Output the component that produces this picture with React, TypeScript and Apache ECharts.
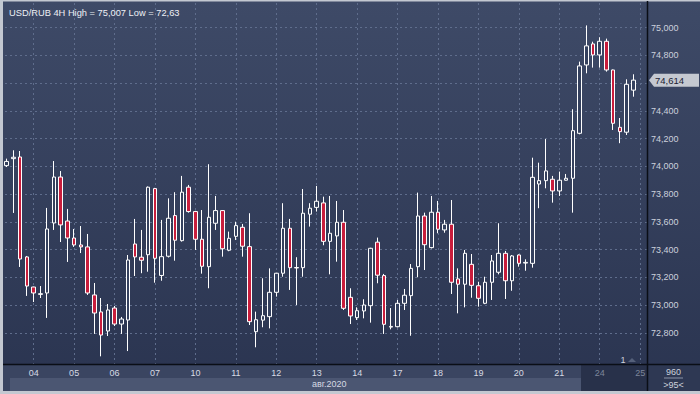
import React, { useEffect, useRef } from "react";
import * as echarts from "echarts";

// ---- data (USD/RUB 4H) ----
const dayLabels = ["04", "05", "06", "07", "10", "11", "12", "13", "14", "17", "18", "19", "20", "21", "24", "25"];
const monthLabel = "авг.2020";
const opens = [
  74.0, 74.05, 74.062, 73.344, 73.128, 73.075, 73.085, 73.588, 73.918, 73.602,
  73.48, 73.43, 73.416, 73.071, 72.949, 72.812, 72.977, 72.862, 72.891, 73.437,
  73.342, 73.36, 73.835, 73.211, 73.349, 73.641, 73.461, 73.845, 73.67, 73.471,
  73.274, 73.586, 73.677, 73.392, 73.492, 73.557, 73.418, 72.807, 72.89, 72.915,
  73.09, 73.227, 73.55, 73.265, 73.267, 73.651, 73.7, 73.732, 73.456, 73.495,
  73.593, 73.054, 72.908, 72.956, 72.994, 73.45, 73.21, 72.84, 72.843, 73.011,
  73.066, 73.274, 73.638, 73.411, 73.665, 73.538, 73.579, 73.186, 73.148, 73.291,
  73.137, 73.011, 73.162, 73.234, 73.37, 73.173, 73.358, 73.3, 73.298, 73.868,
  73.892, 73.902, 73.818, 73.895, 73.909, 74.232, 74.723, 74.874, 74.795, 74.893,
  74.687, 74.275, 74.24, 74.542,
];
const closes = [
  74.03, 74.06, 73.329, 73.135, 73.085, 73.08, 73.545, 73.918, 73.574, 73.48,
  73.43, 73.416, 73.085, 72.941, 72.783, 72.963, 72.862, 72.898, 73.322, 73.344,
  73.32, 73.845, 73.334, 73.346, 73.622, 73.464, 73.809, 73.67, 73.471, 73.277,
  73.629, 73.677, 73.403, 73.478, 73.569, 73.421, 72.879, 72.893, 72.922, 73.09,
  73.227, 73.55, 73.267, 73.268, 73.658, 73.694, 73.744, 73.456, 73.514, 73.593,
  72.975, 72.92, 72.958, 72.999, 73.406, 73.213, 72.86, 72.845, 73.011, 73.069,
  73.262, 73.638, 73.432, 73.665, 73.543, 73.579, 73.162, 73.148, 73.37, 73.14,
  73.047, 73.162, 73.315, 73.37, 73.173, 73.351, 73.298, 73.305, 73.916, 73.892,
  73.962, 73.818, 73.895, 73.909, 74.251, 74.716, 74.86, 74.795, 74.893, 74.687,
  74.304, 74.244, 74.584, 74.614,
];
const lows = [
  73.99, 73.66, 73.272, 73.064, 73.02, 73.049, 72.906, 73.538, 73.451, 73.308,
  73.416, 73.372, 73.071, 72.791, 72.63, 72.776, 72.848, 72.791, 72.668, 73.207,
  73.227, 73.238, 73.159, 73.173, 73.34, 73.317, 73.454, 73.662, 73.394, 73.224,
  73.119, 73.538, 73.346, 73.385, 73.466, 73.346, 72.855, 72.695, 72.839, 72.831,
  73.059, 73.202, 73.107, 72.999, 73.202, 73.562, 73.67, 73.428, 73.219, 73.31,
  72.963, 72.862, 72.891, 72.903, 72.872, 73.155, 72.791, 72.824, 72.838, 72.963,
  72.778, 73.198, 73.25, 73.405, 73.514, 73.518, 73.078, 72.939, 72.982, 73.051,
  72.987, 73.005, 73.035, 73.219, 73.042, 73.101, 73.274, 73.245, 73.267, 73.694,
  73.837, 73.734, 73.782, 73.893, 73.662, 74.225, 74.663, 74.704, 74.704, 74.675,
  74.256, 74.161, 74.22, 74.495,
];
const highs = [
  74.05, 74.11, 74.105, 73.351, 73.13, 73.135, 73.696, 74.033, 73.961, 73.689,
  73.545, 73.566, 73.509, 73.157, 73.049, 73.006, 72.992, 72.913, 73.358, 73.617,
  73.538, 73.85, 73.84, 73.61, 73.765, 73.809, 73.926, 73.861, 73.675, 73.681,
  74.01, 73.782, 73.68, 73.526, 73.597, 73.581, 73.658, 72.951, 73.191, 73.262,
  73.23, 73.73, 73.617, 73.342, 73.832, 73.73, 73.854, 73.777, 73.782, 73.746,
  73.681, 73.119, 72.982, 73.04, 73.41, 73.483, 73.222, 72.977, 73.035, 73.114,
  73.293, 73.806, 73.662, 73.782, 73.746, 73.61, 73.753, 73.262, 73.394, 73.365,
  73.166, 73.202, 73.358, 73.586, 73.387, 73.358, 73.362, 73.327, 74.057, 74.021,
  74.191, 73.926, 73.957, 73.94, 74.405, 74.747, 75.007, 74.89, 74.922, 74.912,
  74.69, 74.342, 74.62, 74.656,
];
const priceTicks = { min: 72.6, max: 75.2, step: 0.2 };
const footerTop = "960";
const footerBottom = ">95<";
const markerLabel = "1";

const CANDLES_PER_DAY = 6;
const FIRST_DAY_CANDLE = 4;

const fmt = (v: number, d = 3) => {
  let s = v.toFixed(d);
  s = s.replace(/0+$/, "").replace(/\.$/, "");
  return s.replace(".", ",");
};

export default function App() {
  const ref = useRef<HTMLDivElement>(null);
  useEffect(() => {
    if (!ref.current) return;
    const chart = echarts.init(ref.current, null, { renderer: "svg" });
    const n = opens.length;
    const catCount = n + 3; // 1 leading pad + candles + trailing pads
    const cats = Array.from({ length: catCount }, (_, i) => "k" + i);
    const labelMap: Record<string, string> = {};
    dayLabels.forEach((d, j) => {
      labelMap["k" + (1 + FIRST_DAY_CANDLE + j * CANDLES_PER_DAY)] = d;
    });
    const dimFrom = 1 + FIRST_DAY_CANDLE + (dayLabels.length - 2) * CANDLES_PER_DAY - 1;
    const candleData: any[] = cats.map((_, k) => {
      const i = k - 1;
      if (i < 0 || i >= n) return "-";
      return [opens[i], closes[i], lows[i], highs[i]];
    });
    const isDayStart = (idx: number) =>
      idx >= 1 + FIRST_DAY_CANDLE && (idx - 1 - FIRST_DAY_CANDLE) % CANDLES_PER_DAY === 0;

    const hi = Math.max(...highs);
    const lo = Math.min(...lows);
    const last = closes[closes.length - 1];
    const titleText = `USD/RUB 4H High = ${fmt(hi)} Low = ${fmt(lo)}`;
    const font = "Liberation Sans, Arial, sans-serif";
    const frame = "#c3c8d1";
    const txt = "#ccd1dc";

    const gridBTop = 3;
    const gridBBottom = 30;
    const plotH = 394 - gridBTop - gridBBottom;
    const yMax = 75.168;
    const yMin = 72.575;
    const ppu = plotH / (yMax - yMin);
    const gridATop = gridBTop + (yMax - priceTicks.max) * ppu;
    const gridABottom = 394 - (gridBTop + (yMax - priceTicks.min) * ppu);
    const gridLeft = -2.77;
    const gridRight = 53.1;

    chart.setOption({
      animation: false,
      backgroundColor: new echarts.graphic.LinearGradient(0, 0, 0, 1, [
        { offset: 0, color: "#3e4a67" },
        { offset: 1, color: "#2a3450" },
      ]),
      textStyle: { fontFamily: font },
      title: {
        text: titleText,
        left: 4,
        top: 3,
        textStyle: { fontSize: 9.3, color: "#eef0f5", fontWeight: "normal", fontFamily: font },
      },
      grid: [
        { left: gridLeft, right: gridRight, top: gridATop, bottom: gridABottom },
        { left: gridLeft, right: gridRight, top: gridBTop, bottom: gridBBottom },
      ],
      xAxis: [
        { type: "value", gridIndex: 0, show: false, min: 0, max: 1 },
        {
          type: "category",
          gridIndex: 1,
          data: cats,
          boundaryGap: false,
          axisLine: { show: false },
          axisTick: { show: false },
          axisLabel: {
            interval: (idx: number) => isDayStart(idx),
            formatter: (v: string) => labelMap[v] || "",
            color: (v: string) => (parseInt(String(v).slice(1), 10) > dimFrom ? "#7d869b" : "#d6dae3"),
            fontSize: 9,
            fontFamily: font,
            margin: 4,
          },
          splitLine: {
            show: true,
            interval: (idx: number) => isDayStart(idx),
            lineStyle: { color: "#5f6d8c", type: [2, 3], width: 1 },
          },
        },
      ],
      yAxis: [
        {
          type: "value",
          gridIndex: 0,
          position: "right",
          min: priceTicks.min,
          max: priceTicks.max,
          interval: priceTicks.step,
          axisLine: { show: false },
          axisTick: { show: false },
          axisLabel: {
            // labels hidden at the axis ends and where the last-price box covers them
            formatter: (v: number) =>
              v < priceTicks.min + 0.1 || v > priceTicks.max - 0.1 || Math.abs(v - last) < 0.05
                ? ""
                : v.toFixed(3).replace(".", ","),
            color: txt,
            fontSize: 9,
            fontFamily: font,
            margin: 4,
          },
          splitLine: {
            show: true,
            showMinLine: false,
            showMaxLine: false,
            lineStyle: { color: "#5f6d8c", type: [2, 3], width: 1 },
          },
        },
        {
          type: "value",
          gridIndex: 1,
          position: "right",
          min: yMin,
          max: yMax,
          show: false,
        },
      ],
      series: [
        {
          type: "candlestick",
          xAxisIndex: 1,
          yAxisIndex: 1,
          data: candleData,
          barWidth: 4,
          itemStyle: {
            color: "#35415e",
            color0: "#c81d3c",
            borderColor: "#ffffff",
            borderColor0: "#ffffff",
            borderWidth: 1,
          },
        },
      ],
      graphic: {
        elements: [
          { id: "axisBg", type: "rect", z: -1, shape: { x: 3, y: 364, width: 644, height: 27 }, style: { fill: "#3a4561" } },
          { id: "band", type: "rect", z: -1, shape: { x: 10, y: 378, width: 571, height: 13 }, style: { fill: "#4b5672" } },
          { id: "darkZone", type: "rect", z: -1, shape: { x: 581, y: 365, width: 66, height: 26 }, style: { fill: "#28314a" } },
          { id: "rbBox", type: "rect", z: -1, shape: { x: 648, y: 365, width: 52, height: 26 }, style: { fill: "#2e3853" } },
          { id: "fL", type: "rect", z: 20, shape: { x: 0, y: 0, width: 3, height: 394 }, style: { fill: frame } },
          { id: "fT", type: "rect", z: 20, shape: { x: 0, y: 0, width: 700, height: 1.5 }, style: { fill: frame } },
          { id: "fB", type: "rect", z: 20, shape: { x: 0, y: 391, width: 700, height: 3 }, style: { fill: frame } },
          { id: "hLine", type: "line", z: 20, shape: { x1: 3, y1: 364.5, x2: 700, y2: 364.5 }, style: { stroke: "#0a0e16", lineWidth: 1.5 } },
          { id: "vLine", type: "line", z: 20, shape: { x1: 647.5, y1: 1, x2: 647.5, y2: 391 }, style: { stroke: "#0a0e16", lineWidth: 1.5 } },
          {
            id: "month", type: "text", z: 20, x: 312, y: 384,
            style: { text: monthLabel, fill: "#d6dae3", font: `9px ${font}`, textVerticalAlign: "middle" },
          },
          {
            id: "marker", type: "text", z: 20, x: 623, y: 360,
            style: { text: markerLabel, fill: txt, font: `9px ${font}`, textAlign: "center", textVerticalAlign: "middle" },
          },
          {
            id: "markerTri", type: "polygon", z: 20,
            shape: { points: [[628, 362], [632, 358], [636, 362]] },
            style: { fill: "#55607a" },
          },
          {
            id: "f1", type: "text", z: 20, x: 673.5, y: 371.5,
            style: { text: footerTop, fill: txt, font: `9px ${font}`, textAlign: "center", textVerticalAlign: "middle" },
          },
          { id: "fLine", type: "line", z: 20, shape: { x1: 664, y1: 378, x2: 683, y2: 378 }, style: { stroke: "#8a93a8", lineWidth: 1 } },
          {
            id: "f2", type: "text", z: 20, x: 673.5, y: 385,
            style: { text: footerBottom, fill: txt, font: `9px ${font}`, textAlign: "center", textVerticalAlign: "middle" },
          },
        ],
      },
    });

    const py = chart.convertToPixel({ yAxisIndex: 1 } as any, last) as unknown as number;
    if (typeof py === "number" && isFinite(py)) {
      chart.setOption({
        graphic: {
          elements: [
            {
              id: "priceBox", type: "polygon", z: 30,
              shape: { points: [[649, py], [654, py - 6.5], [699, py - 6.5], [699, py + 6.5], [654, py + 6.5]] },
              style: { fill: "#c5c9d1" },
            },
            {
              id: "priceText", type: "text", z: 31, x: 655, y: py,
              style: { text: fmt(last), fill: "#1c2233", font: `9.5px ${font}`, textVerticalAlign: "middle" },
            },
          ],
        },
      });
    }

    return () => chart.dispose();
  }, []);
  return <div ref={ref} style={{ position: "fixed", left: 0, top: 0, width: 700, height: 394 }} />;
}
